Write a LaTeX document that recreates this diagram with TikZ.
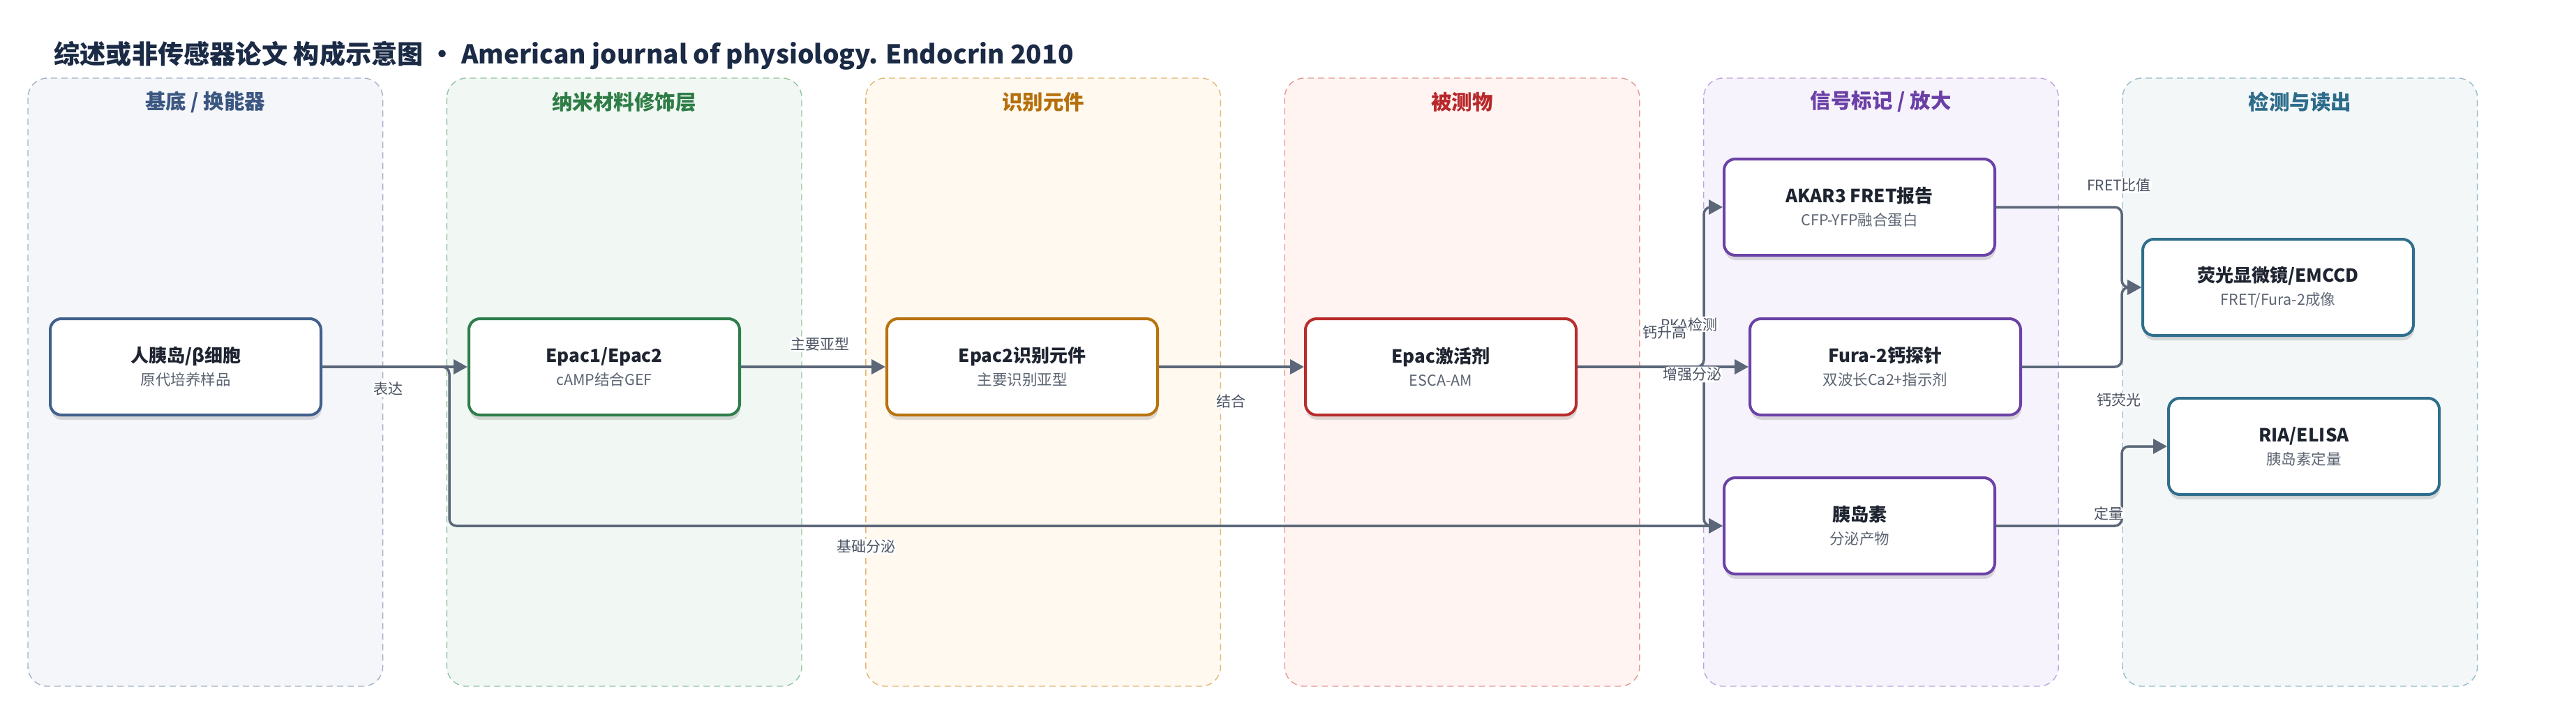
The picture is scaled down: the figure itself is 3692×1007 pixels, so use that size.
\documentclass[tikz,border=0pt]{standalone}
\usepackage{fontspec}
\setmainfont{Noto Sans CJK SC}
\usetikzlibrary{positioning}
\usetikzlibrary{calc}
\usetikzlibrary{arrows.meta}
\usetikzlibrary{shadows}
\definecolor{titleblue}{RGB}{27,42,69}
\definecolor{nodeink}{RGB}{30,36,48}
\definecolor{subgray}{RGB}{92,100,114}
\definecolor{flowgray}{RGB}{91,103,121}
\definecolor{labelgray}{RGB}{74,82,98}
% lanes
\definecolor{lanefill1}{RGB}{244,246,250}
\definecolor{laneline1}{RGB}{163,177,198}
\definecolor{lanetext1}{RGB}{59,86,128}
\definecolor{lanefill2}{RGB}{241,248,243}
\definecolor{laneline2}{RGB}{146,196,162}
\definecolor{lanetext2}{RGB}{46,125,70}
\definecolor{lanefill3}{RGB}{255,249,240}
\definecolor{laneline3}{RGB}{226,182,120}
\definecolor{lanetext3}{RGB}{181,112,12}
\definecolor{lanefill4}{RGB}{255,244,242}
\definecolor{laneline4}{RGB}{227,154,148}
\definecolor{lanetext4}{RGB}{184,40,42}
\definecolor{lanefill5}{RGB}{247,243,252}
\definecolor{laneline5}{RGB}{187,166,218}
\definecolor{lanetext5}{RGB}{106,64,166}
\definecolor{lanefill6}{RGB}{243,247,248}
\definecolor{laneline6}{RGB}{149,188,203}
\definecolor{lanetext6}{RGB}{45,108,138}
% box borders
\definecolor{border1}{RGB}{65,96,140}
\definecolor{border2}{RGB}{46,125,74}
\definecolor{border3}{RGB}{184,115,14}
\definecolor{border4}{RGB}{184,44,44}
\definecolor{border5}{RGB}{107,66,166}
\definecolor{border6}{RGB}{47,110,140}
\newcommand{\widthbox}{388pt}
\newcommand{\heightbox}{138pt}
\newcommand{\widthlane}{508.6}
\newcommand{\heightlane}{872}
\newcommand{\boxtxt}[2]{{\bfseries #1}\\{\fontsize{21.5}{33}\selectfont\color{subgray}#2}}
\tikzset{
    lane/.style={draw=#1, dash pattern=on 9pt off 6pt, line width=1.4pt, rounded corners=28pt},
    lanehead/.style={font=\bfseries\fontsize{29.5}{34}\selectfont},
    box/.style={draw=#1, line width=4pt, fill=white, rounded corners=16pt,
        minimum width=\widthbox, minimum height=\heightbox, inner sep=0pt,
        align=center, text=nodeink, font=\fontsize{26}{33}\selectfont,
        drop shadow={shadow xshift=1pt, shadow yshift=-7pt, opacity=0.13, fill=black}},
    flow/.style={draw=flowgray, line width=3.5pt, rounded corners=10pt,
        -{Triangle[length=20pt, width=21pt]}},
    elabel/.style={fill=white, inner sep=1.5pt, text=labelgray, font=\fontsize{21}{24}\selectfont},
}

\begin{document}
\begin{tikzpicture}[x=1pt, y=-1pt]
    \useasboundingbox (0,0) rectangle (3692,1007);
    \node[anchor=base west, text=titleblue, font=\bfseries\fontsize{37.2}{44}\selectfont] (title) at (74,91)
        {综述或非传感器论文 构成示意图 • American journal of physiology. Endocrin 2010};

    % lanes
    \foreach \i/\txt in {1/{基底 / 换能器}, 2/纳米材料修饰层, 3/识别元件, 4/被测物, 5/{信号标记 / 放大}, 6/检测与读出} {
        \draw[lane=laneline\i, fill=lanefill\i] ({40+600.4*(\i-1)},112) rectangle ++(\widthlane,\heightlane);
        \node[lanehead, text=lanetext\i] (head\i) at ({40+600.4*(\i-1)+\widthlane/2},146) {\txt};
    }

    % buses
    \coordinate (busA) at (644,0);
    \coordinate (busB) at (2442,0);
    \coordinate (busC) at (3041,0);

    % boxes
    \node[box=border1] (islet) at (266,526) {\boxtxt{人胰岛/β细胞}{原代培养样品}};
    \node[box=border2] (epac) at (866,526) {\boxtxt{Epac1/Epac2}{cAMP结合GEF}};
    \node[box=border3] (epactwo) at (1465,526) {\boxtxt{Epac2识别元件}{主要识别亚型}};
    \node[box=border4] (esca) at (2065,526) {\boxtxt{Epac激活剂}{ESCA-AM}};
    \node[box=border5] (akar) at (2665,297) {\boxtxt{AKAR3 FRET报告}{CFP-YFP融合蛋白}};
    \node[box=border5] (fura) at (2702,526) {\boxtxt{Fura-2钙探针}{双波长Ca2+指示剂}};
    \node[box=border5] (insulin) at (2665,754) {\boxtxt{胰岛素}{分泌产物}};
    \node[box=border6] (emccd) at (3265,412) {\boxtxt{荧光显微镜/EMCCD}{FRET/Fura-2成像}};
    \node[box=border6] (elisa) at (3302,640) {\boxtxt{RIA/ELISA}{胰岛素定量}};

    % connectors
    \draw[flow] (islet.east) -- (epac.west) node[elabel] at (556,558) {表达};
    \draw[flow] (islet.east) -- (busA |- islet.east) -- (busA |- insulin.west) -- (insulin.west)
        node[elabel] at (1241,784) {基础分泌};
    \draw[flow] (epac.east) -- (epactwo.west) node[elabel] at (1175,494) {主要亚型};
    \draw[flow] (epactwo.east) -- (esca.west) node[elabel] at (1764,575) {结合};
    \draw[flow] (esca.east) -- (busB |- esca.east) -- (busB |- akar.west) -- (akar.west)
        node[elabel] at (2421,465) {PKA检测};
    \draw[flow] (esca.east) -- (fura.west) node[elabel] at (2386,477) {钙升高};
    \draw[flow] (esca.east) -- (busB |- esca.east) -- (busB |- insulin.west) -- (insulin.west)
        node[elabel] at (2425,537) {增强分泌};
    \draw[flow] (akar.east) -- (busC |- akar.east) -- (busC |- emccd.west) -- (emccd.west)
        node[elabel] at (3037,266) {FRET比值};
    \draw[flow] (fura.east) -- (busC |- fura.east) -- (busC |- emccd.west) -- (emccd.west)
        node[elabel] at (3037,574) {钙荧光};
    \draw[flow] (insulin.east) -- (busC |- insulin.east) -- (busC |- elisa.west) -- (elisa.west)
        node[elabel] at (3022,736) {定量};
\end{tikzpicture}
\end{document}
